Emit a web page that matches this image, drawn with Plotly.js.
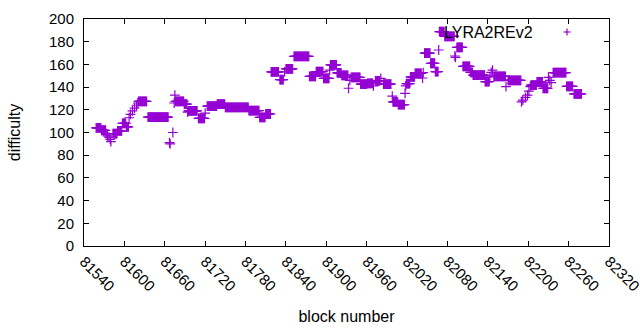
<!DOCTYPE html>
<html><head><meta charset="utf-8">
<script src="https://cdn.plot.ly/plotly-3.0.1.min.js"></script>
<style>html,body{margin:0;padding:0;background:#fff}#chart{width:640px;height:330px}</style>
</head><body><div id="chart"></div>
<script>
// Runs of (nearly) constant difficulty: first block, last block, difficulty
const runStart = [81558,81566,81573,81575,81577,81579,81580,81583,81590,81597,81603,81607,81609,81612,81615,81618,81620,81621,81635,81667,81668,81672,81674,81675,81676,81689,81694,81695,81710,81720,81723,81738,81750,81785,81801,81810,81818,81831,81838,81840,81852,81875,81885,81896,81905,81906,81916,81923,81933,81935,81937,81951,81961,81970,81973,81981,81985,81998,81999,82007,82017,82018,82019,82025,82032,82043,82044,82046,82055,82062,82067,82068,82076,82091,82092,82094,82103,82114,82118,82136,82143,82145,82147,82149,82167,82170,82190,82192,82196,82199,82201,82203,82204,82213,82222,82230,82232,82234,82237,82257,82268];
const runEnd   = [81565,81572,81573,81575,81577,81579,81580,81589,81596,81602,81606,81607,81609,81612,81615,81618,81620,81633,81665,81667,81668,81672,81674,81675,81688,81693,81694,81708,81719,81720,81737,81749,81784,81800,81809,81817,81829,81836,81838,81850,81874,81884,81895,81904,81905,81915,81922,81932,81933,81935,81950,81960,81969,81970,81979,81981,81996,81998,82006,82016,82017,82018,82024,82031,82041,82043,82044,82054,82061,82066,82067,82075,82090,82091,82092,82102,82113,82117,82135,82142,82143,82145,82147,82166,82167,82189,82190,82192,82196,82199,82201,82203,82212,82221,82229,82230,82232,82234,82256,82266,82279];
const runValue = [104,102,99,97,96,94,92,99,101.5,108,105,113,116,119,121.5,124,126,127.5,113.5,91,90,100,126,133,127.5,125,118,119,112.5,117,123.3,125,122.2,119.2,113.4,116.3,153.5,146.5,153.5,156,167,149.5,153.6,147.7,155,159.5,152.5,150.3,139,146,148.6,142.7,143.3,141,145.4,147.7,142.7,132,127,124.5,134.5,141,143,149,152,148,152.7,170,161,153.6,172.7,188.8,184.7,167.4,166.2,175,158.3,153,150.6,144.8,149,153,155,149.5,140.4,146,127,128.6,131,133,136.5,140.4,141.8,144.5,139,148.6,146,144,152.7,140.7,134];
const seriesName = 'LYRA2REv2';
const xTickVals = [81540,81600,81660,81720,81780,81840,81900,81960,82020,82080,82140,82200,82260,82320];
const yTickVals = [0,20,40,60,80,100,120,140,160,180,200];

const blocks = [], diffs = [];
for (let i = 0; i < runStart.length; i++) {
  for (let b = runStart[i]; b <= runEnd[i]; b++) { blocks.push(b); diffs.push(runValue[i]); }
}
const purple = '#9400d3';
const trace = {
  x: blocks, y: diffs, type: 'scatter', mode: 'markers', name: seriesName, showlegend: false,
  marker: {symbol: 'cross-thin', size: 7, color: purple, line: {color: purple, width: 1.2}}
};
// legend key (gnuplot style: text then sample on the right)
const kx = (567 - 84) / 525, ky = (246 - 32) / 227, dx = 3.5 / 525, dy = 3.5 / 227;
const layout = {
  width: 640, height: 330,
  margin: {l: 84, r: 31, t: 19, b: 84, pad: 0},
  paper_bgcolor: '#fff', plot_bgcolor: '#fff',
  font: {family: 'Liberation Sans, Arial, sans-serif', size: 15, color: '#000'},
  xaxis: {range: [81540, 82320], tickvals: xTickVals, ticktext: xTickVals.map(String), tickangle: 45,
    ticks: 'inside', ticklen: 5, tickcolor: '#000', tickwidth: 1, showline: true, linecolor: '#000', linewidth: 1,
    mirror: 'ticks', showgrid: false, zeroline: false, automargin: false, ticklabeloverflow: 'allow',
    title: {text: 'block number', standoff: 17, font: {size: 16}}},
  yaxis: {range: [0, 200], tickvals: yTickVals, ticks: 'inside', ticklen: 5, tickcolor: '#000', tickwidth: 1,
    showline: true, linecolor: '#000', linewidth: 1, mirror: 'ticks', showgrid: false, zeroline: false,
    automargin: false, ticklabelstandoff: 6,
    title: {text: 'difficulty', standoff: 24, font: {size: 16}}},
  annotations: [{xref: 'paper', yref: 'paper', x: (535 - 84) / 525, y: ky, xanchor: 'right', yanchor: 'middle',
    text: seriesName, showarrow: false, font: {size: 16}}],
  shapes: [
    {type: 'line', xref: 'paper', yref: 'paper', x0: kx - dx, x1: kx + dx, y0: ky, y1: ky, line: {color: purple, width: 1.2}},
    {type: 'line', xref: 'paper', yref: 'paper', x0: kx, x1: kx, y0: ky - dy, y1: ky + dy, line: {color: purple, width: 1.2}}
  ]
};
Plotly.newPlot('chart', [trace], layout, {staticPlot: true, displayModeBar: false});
</script></body></html>
